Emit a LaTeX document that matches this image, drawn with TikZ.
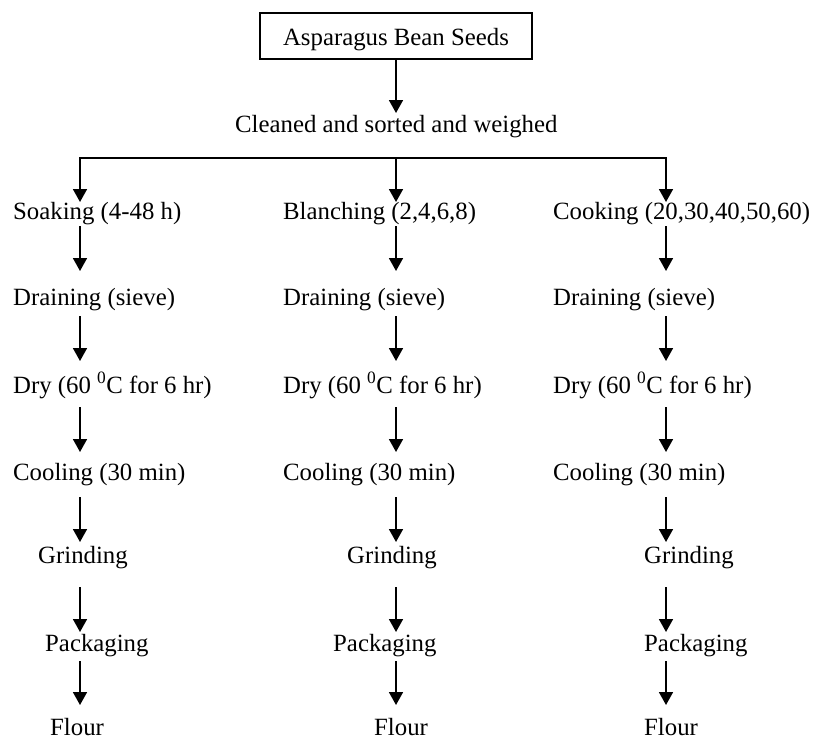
\documentclass[tikz,border=0pt]{standalone}
\usepackage{fontspec}
\setmainfont{Liberation Serif}
\usetikzlibrary{arrows.meta,calc}
\begin{document}
\begin{tikzpicture}[x=1pt,y=1pt,
  lbl/.style={anchor=base west,inner sep=0pt,font=\fontsize{24.8}{30}\selectfont},
  arr/.style={line width=1.8pt,-{Triangle[width=14pt,length=13pt]}},
  topbox/.style={draw,line width=1.3pt,minimum width=272pt,minimum height=46pt,inner sep=0pt,
     text height=20pt,text depth=2pt,font=\fontsize{24.8}{30}\selectfont}]
\useasboundingbox (0,0) rectangle (817,-739);
\node[topbox] (seeds) at (396,-36) {Asparagus Bean Seeds};
\node[lbl] (clean) at (235,-132) {Cleaned and sorted and weighed};
\coordinate (xa) at (80,-158);
\coordinate (xb) at (396,-158);
\coordinate (xc) at (666,-158);
% column a
\node[lbl] (a1) at (13,-219) {Soaking (4-48 h)};
\node[lbl] (a2) at (13,-305) {Draining (sieve)};
\node[lbl] (a3) at (13,-393) {Dry (60 \textsuperscript{0}C for 6 hr)};
\node[lbl] (a4) at (13,-480) {Cooling (30 min)};
\node[lbl] (a5) at (38,-563) {Grinding};
\node[lbl] (a6) at (45,-651) {Packaging};
\node[lbl] (a7) at (50,-735) {Flour};
% column b
\node[lbl] (b1) at (283,-219) {Blanching (2,4,6,8)};
\node[lbl] (b2) at (283,-305) {Draining (sieve)};
\node[lbl] (b3) at (283,-393) {Dry (60 \textsuperscript{0}C for 6 hr)};
\node[lbl] (b4) at (283,-480) {Cooling (30 min)};
\node[lbl] (b5) at (347,-563) {Grinding};
\node[lbl] (b6) at (333,-651) {Packaging};
\node[lbl] (b7) at (374,-735) {Flour};
% column c
\node[lbl] (c1) at (553,-219) {Cooking (20,30,40,50,60)};
\node[lbl] (c2) at (553,-305) {Draining (sieve)};
\node[lbl] (c3) at (553,-393) {Dry (60 \textsuperscript{0}C for 6 hr)};
\node[lbl] (c4) at (553,-480) {Cooling (30 min)};
\node[lbl] (c5) at (644,-563) {Grinding};
\node[lbl] (c6) at (644,-651) {Packaging};
\node[lbl] (c7) at (644,-735) {Flour};
% connectors
\draw[arr] (seeds.south) -- ($(clean.base -| seeds.south)+(0,19)$);
\draw[arr] (xb) -- (xa) -- ($(a1.base -| xa)+(0,17)$);
\draw[arr] (xb) -- (xc) -- ($(c1.base -| xc)+(0,17)$);
\draw[arr] (xb) -- ($(b1.base -| xb)+(0,17)$);
\foreach \c/\cx in {a/xa,b/xb,c/xc}{
  \foreach \r/\n/\s/\e in {1/2/7/34,2/3/11/32,3/4/14/28,4/5/17/21,5/6/24/19,6/7/10/30}{
    \draw[arr] ($(\c\r.base -| \cx)+(0,-\s)$) -- ($(\c\n.base -| \cx)+(0,\e)$);
  }
}
\end{tikzpicture}
\end{document}
